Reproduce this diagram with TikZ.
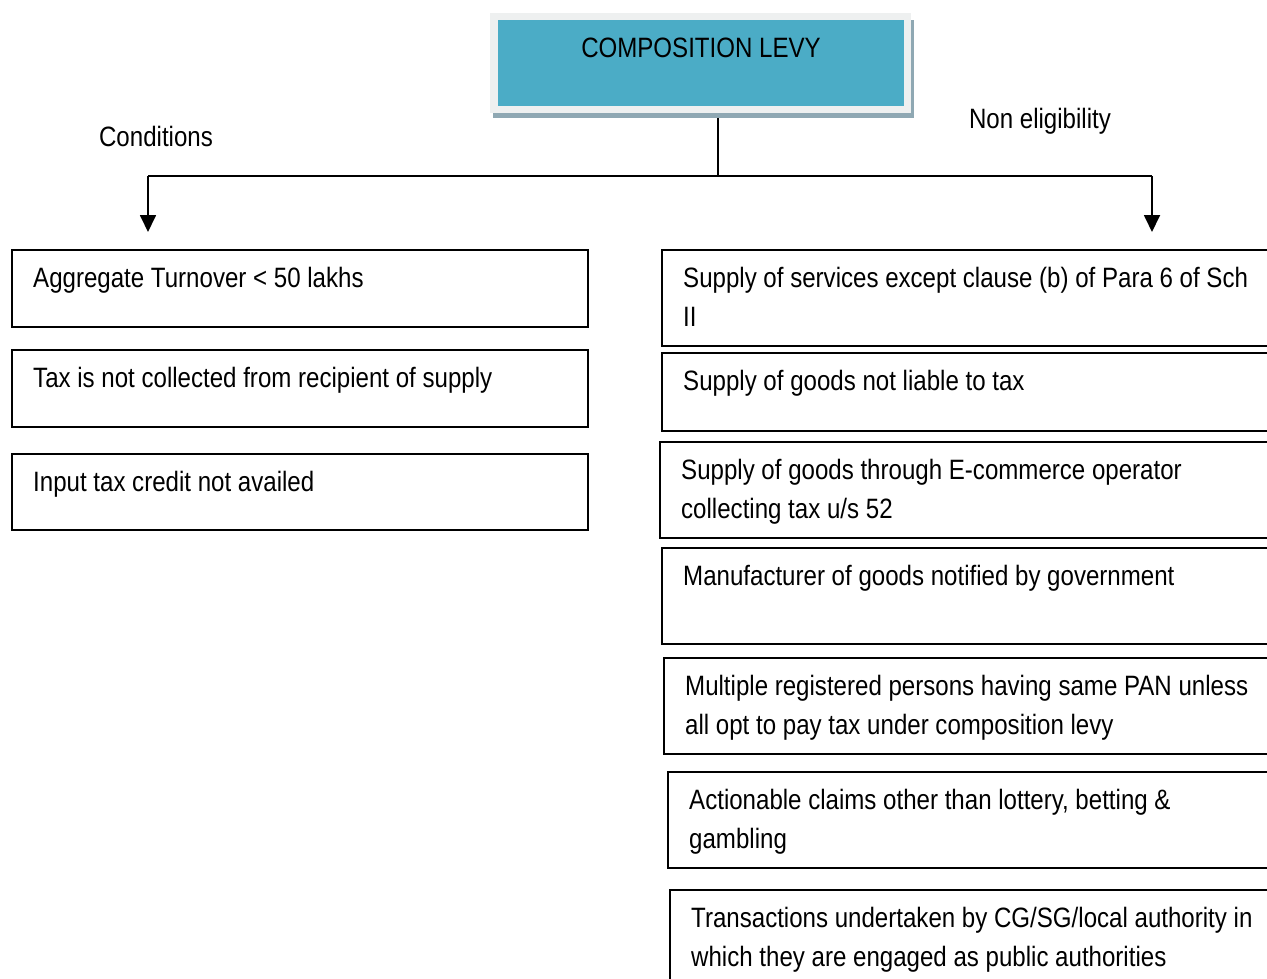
\documentclass[tikz,border=0pt]{standalone}
\usepackage{fontspec}
\setmainfont{Liberation Sans}[FakeStretch=0.86]
\usetikzlibrary{arrows.meta}
\definecolor{teal1}{HTML}{4BACC6}
\definecolor{frame1}{HTML}{EEF0F0}
\definecolor{shade1}{HTML}{8FA8B3}
\begin{document}
\begin{tikzpicture}[x=1pt,y=-1pt,
  box/.style={draw=black, line width=1.8pt, rectangle, anchor=north west, inner sep=0pt, outer sep=0pt},
  txt/.style={anchor=base west, inner sep=0pt, align=left, font=\fontsize{28}{39}\selectfont},
  lbl/.style={anchor=base, inner sep=0pt, font=\fontsize{28}{34}\selectfont},
  conn/.style={draw=black, line width=1.8pt},
  arr/.style={conn, -{Triangle[width=16pt,length=17pt]}}]
\useasboundingbox (0,0) rectangle (1267,979);
\clip (0,0) rectangle (1267,979);
% title box
\fill[shade1] (493,20) rectangle (914,118);
\fill[frame1] (490,13) rectangle (911,113);
\node[fill=teal1, anchor=north west, inner sep=0pt, minimum width=406pt, minimum height=86pt] (top) at (498,20) {};
\node[lbl] (toptxt) at (701,58) {COMPOSITION LEVY};
% headings
\node[lbl] (cond) at (156,147) {Conditions};
\node[lbl] (noneli) at (1040,129) {Non eligibility};
% connectors
\coordinate (jc) at (718,176);
\coordinate (jl) at (148,176);
\coordinate (jr) at (1152,176);
\coordinate (al) at (148,232);
\coordinate (ar) at (1152,232);
\draw[conn] (718,118) -- (jc);
\draw[conn] (jl) -- (jr);
\draw[arr] (jl) -- (al);
\draw[arr] (jr) -- (ar);
% left boxes
\node[box, minimum width=576pt, minimum height=77pt] (c1) at (12,250) {};
\node[txt] at ([shift={(21,37)}]c1.north west) {Aggregate Turnover < 50 lakhs};
\node[box, minimum width=576pt, minimum height=77pt] (c2) at (12,350) {};
\node[txt] at ([shift={(21,37)}]c2.north west) {Tax is not collected from recipient of supply};
\node[box, minimum width=576pt, minimum height=76pt] (c3) at (12,454) {};
\node[txt] at ([shift={(21,37)}]c3.north west) {Input tax credit not availed};
% right boxes
\node[box, minimum width=640pt, minimum height=96pt] (n1) at (662,250) {};
\node[txt] at ([shift={(21,76)}]n1.north west) {Supply of services except clause (b) of Para 6 of Sch\\II};
\node[box, minimum width=640pt, minimum height=78pt] (n2) at (662,353) {};
\node[txt] at ([shift={(21,37)}]n2.north west) {Supply of goods not liable to tax};
\node[box, minimum width=640pt, minimum height=96pt] (n3) at (660,442) {};
\node[txt] at ([shift={(21,76)}]n3.north west) {Supply of goods through E-commerce operator\\collecting tax u/s 52};
\node[box, minimum width=640pt, minimum height=96pt] (n4) at (662,548) {};
\node[txt] at ([shift={(21,37)}]n4.north west) {Manufacturer of goods notified by government};
\node[box, minimum width=640pt, minimum height=96pt] (n5) at (664,658) {};
\node[txt] at ([shift={(21,76)}]n5.north west) {Multiple registered persons having same PAN unless\\all opt to pay tax under composition levy};
\node[box, minimum width=640pt, minimum height=96pt] (n6) at (668,772) {};
\node[txt] at ([shift={(21,76)}]n6.north west) {Actionable claims other than lottery, betting \&\\gambling};
\node[box, minimum width=640pt, minimum height=120pt] (n7) at (670,890) {};
\node[txt] at ([shift={(21,76)}]n7.north west) {Transactions undertaken by CG/SG/local authority in\\which they are engaged as public authorities};
\end{tikzpicture}
\end{document}
